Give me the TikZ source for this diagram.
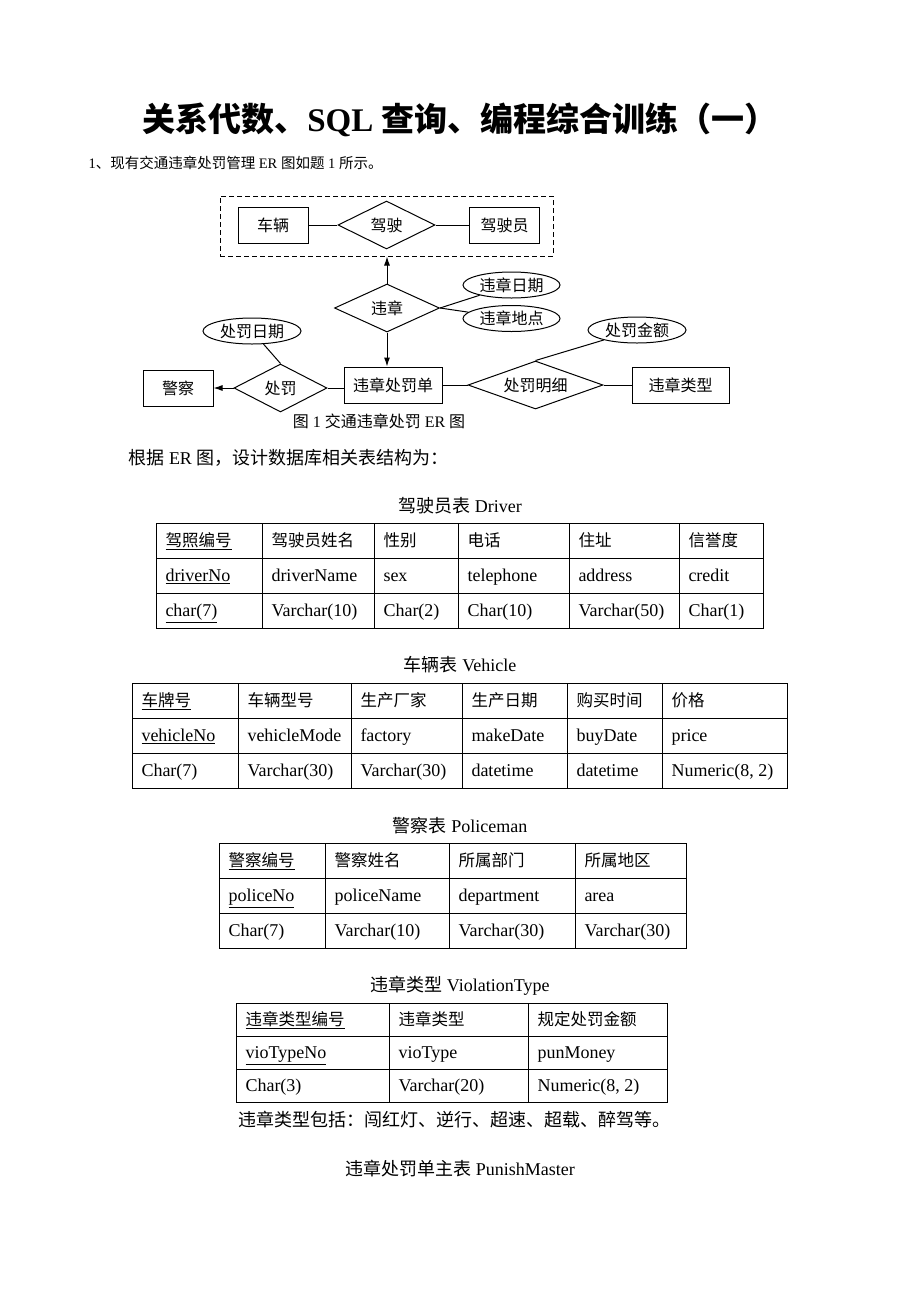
\documentclass[tikz,border=0pt]{standalone}
\usepackage{fontspec}
\setmainfont{Liberation Serif}
\newfontfamily\cjk{Noto Sans CJK SC}
\usetikzlibrary{shapes.geometric,arrows.meta}
\newcommand{\zh}[1]{{\cjk\fontsize{16.5}{20}\selectfont #1}}

\tikzset{
  entity/.style={draw, minimum width=70pt, minimum height=36pt, inner sep=0pt, font=\cjk\fontsize{16}{19}\selectfont},
  relation/.style={draw, diamond, aspect=2.5, inner sep=0pt, minimum height=48pt, font=\cjk\fontsize{16}{19}\selectfont},
  attr/.style={draw, ellipse, inner sep=0pt, minimum width=97pt, minimum height=26pt, font=\cjk\fontsize{16}{19}\selectfont},
  cell/.style={anchor=base west, inner sep=0pt, font=\fontsize{18}{22}\selectfont},
  caption/.style={inner sep=0pt, font=\fontsize{18}{22}\selectfont}
}

\begin{document}
\begin{tikzpicture}[x=1pt, y=-1pt, line width=1pt, >={Latex[length=9pt,width=6pt]}]
\useasboundingbox (0,0) rectangle (920,1302);

% heading
\node[inner sep=0pt, font=\fontsize{33}{40}\selectfont\bfseries] (title) at (460,120) {{\cjk 关系代数、}SQL {\cjk 查询、编程综合训练（一）}};
\node[anchor=base west, inner sep=0pt, font=\fontsize{14.5}{18}\selectfont] (q1) at (88,168) {1{\cjk 、现有交通违章处罚管理} ER {\cjk 图如题} 1 {\cjk 所示。}};

% ER diagram
\node[draw, dashed, dash pattern=on 5pt off 3pt, minimum width=333pt, minimum height=60pt] (agg) at (386.5,226) {};
\node[entity] (cl) at (273,225) {车辆};
\node[relation, minimum width=97pt] (js) at (386.5,225) {驾驶};
\node[entity] (jsy) at (504.5,225) {驾驶员};
\node[relation, minimum width=105pt] (wz) at (387,308) {违章};
\node[attr] (wzrq) at (511.5,285) {违章日期};
\node[attr] (wzdd) at (511.5,318.5) {违章地点};
\node[entity, minimum width=98pt] (cfd) at (393,385) {违章处罚单};
\node[relation, minimum width=93pt] (cf) at (280.5,388) {处罚};
\node[entity] (jc) at (178,388) {警察};
\node[attr, minimum width=98pt] (cfrq) at (252,331) {处罚日期};
\node[relation, minimum width=135pt] (cfmx) at (535.5,385) {处罚明细};
\node[entity, minimum width=97pt] (wzlx) at (680.5,385) {违章类型};
\node[attr, minimum width=98pt] (cfje) at (637,330) {处罚金额};
\node[inner sep=0pt, font=\fontsize{16}{19}\selectfont] (fig) at (379,421) {{\cjk 图} 1 {\cjk 交通违章处罚} ER {\cjk 图}};

\draw (cl) -- (js);
\draw (js) -- (jsy);
\draw[->] (wz.north) -- (wz.north |- agg.south);
\draw (wz.east) -- (wzrq);
\draw (wz.east) -- (wzdd);
\draw[->] (wz.south) -- (wz.south |- cfd.north);
\draw[->] (cf.west) -- (jc.east);
\draw (cf.east) -- (cf.east -| cfd.west);
\draw (cf.north) -- (cfrq);
\draw (cfd.east) -- (cfmx.west);
\draw (cfmx.east) -- (wzlx.west);
\draw (cfmx.north) -- (cfje);

\node[anchor=base west, inner sep=0pt, font=\fontsize{18}{22}\selectfont] (q2) at (128,464) {{\cjk 根据} ER {\cjk 图，设计数据库相关表结构为：}};

% Driver
\node[caption] (tdrv) at (460,506) {{\cjk 驾驶员表} Driver};
\draw (156,523) rectangle (763,628);
\foreach \y in {558,593} \draw (156,\y) -- (763,\y);
\foreach \x in {262,374,458,569,679} \draw (\x,523) -- (\x,628);
\foreach \x/\a/\b/\c [count=\i] in {156/\underline{\zh{驾照编号}}/\underline{driverNo}/\underline{char(7)},
    262/\zh{驾驶员姓名}/driverName/Varchar(10), 374/\zh{性别}/sex/Char(2),
    458/\zh{电话}/telephone/Char(10), 569/\zh{住址}/address/Varchar(50), 679/\zh{信誉度}/credit/Char(1)} {
  \node[cell] (drv-\i-1) at (\x+9,546.5) {\a};
  \node[cell] (drv-\i-2) at (\x+9,581.5) {\b};
  \node[cell] (drv-\i-3) at (\x+9,616.5) {\c};
}

% Vehicle
\node[caption] (tveh) at (460,665) {{\cjk 车辆表} Vehicle};
\draw (132,683) rectangle (787,788);
\foreach \y in {718,753} \draw (132,\y) -- (787,\y);
\foreach \x in {238,351,462,567,662} \draw (\x,683) -- (\x,788);
\foreach \x/\a/\b/\c [count=\i] in {132/\underline{\zh{车牌号}}/\underline{vehicleNo}/Char(7),
    238/\zh{车辆型号}/vehicleMode/Varchar(30), 351/\zh{生产厂家}/factory/Varchar(30),
    462/\zh{生产日期}/makeDate/datetime, 567/\zh{购买时间}/buyDate/datetime, 662/\zh{价格}/price/{Numeric(8, 2)}} {
  \node[cell] (veh-\i-1) at (\x+9,706.5) {\a};
  \node[cell] (veh-\i-2) at (\x+9,741.5) {\b};
  \node[cell] (veh-\i-3) at (\x+9,776.5) {\c};
}

% Policeman
\node[caption] (tpol) at (460,826) {{\cjk 警察表} Policeman};
\draw (219,843) rectangle (686,948);
\foreach \y in {878,913} \draw (219,\y) -- (686,\y);
\foreach \x in {325,449,575} \draw (\x,843) -- (\x,948);
\foreach \x/\a/\b/\c [count=\i] in {219/\underline{\zh{警察编号}}/\underline{policeNo}/Char(7),
    325/\zh{警察姓名}/policeName/Varchar(10), 449/\zh{所属部门}/department/Varchar(30),
    575/\zh{所属地区}/area/Varchar(30)} {
  \node[cell] (pol-\i-1) at (\x+9,866.5) {\a};
  \node[cell] (pol-\i-2) at (\x+9,901.5) {\b};
  \node[cell] (pol-\i-3) at (\x+9,936.5) {\c};
}

% ViolationType
\node[caption] (tvio) at (460,986) {{\cjk 违章类型} ViolationType};
\draw (236,1003) rectangle (667,1102);
\foreach \y in {1036,1069} \draw (236,\y) -- (667,\y);
\foreach \x in {389,528} \draw (\x,1003) -- (\x,1102);
\foreach \x/\a/\b/\c [count=\i] in {236/\underline{\zh{违章类型编号}}/\underline{vioTypeNo}/Char(3),
    389/\zh{违章类型}/vioType/Varchar(20), 528/\zh{规定处罚金额}/punMoney/{Numeric(8, 2)}} {
  \node[cell] (vio-\i-1) at (\x+9,1025.5) {\a};
  \node[cell] (vio-\i-2) at (\x+9,1058.5) {\b};
  \node[cell] (vio-\i-3) at (\x+9,1091.5) {\c};
}
\node[anchor=west, inner sep=0pt, font=\cjk\fontsize{18}{22}\selectfont] (note) at (238,1120) {违章类型包括：闯红灯、逆行、超速、超载、醉驾等。};

% PunishMaster
\node[caption] (tpun) at (460,1169) {{\cjk 违章处罚单主表} PunishMaster};
\end{tikzpicture}
\end{document}
